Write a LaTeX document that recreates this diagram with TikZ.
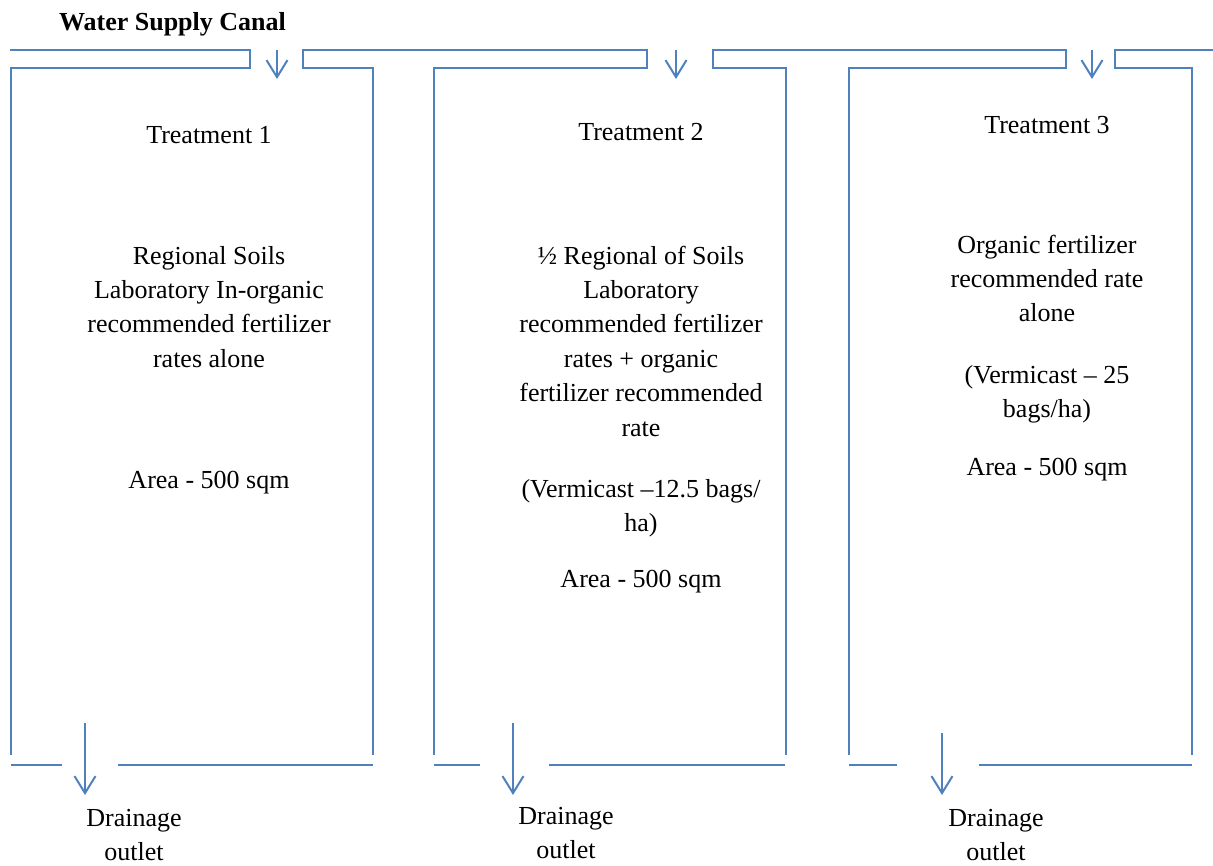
\documentclass[tikz,border=0pt]{standalone}
\usepackage{fontspec}
\setmainfont{Liberation Serif}
\usetikzlibrary{arrows.meta}
\definecolor{canalblue}{RGB}{79,129,189}
\begin{document}
\begin{tikzpicture}[x=1pt,y=-1pt,
  wall/.style={draw=canalblue,line width=2pt},
  flow/.style={draw=canalblue,line width=2pt,-{Straight Barb[length=17pt,width=21pt,line width=2pt]}},
  txt/.style={anchor=base,inner sep=0pt,font=\fontsize{26}{34.4}\selectfont},
  hdr/.style={txt,font=\fontsize{26}{34.4}\selectfont\bfseries}]
\useasboundingbox (0,0) rectangle (1213,865);
% canal and plot walls
\draw[wall] (10,50)--(250,50)--(250,68)--(11,68)--(11,755);
\draw[wall] (373,755)--(373,68)--(303,68)--(303,50)--(647,50)--(647,68)--(434,68)--(434,755);
\draw[wall] (786,755)--(786,68)--(713,68)--(713,50)--(1066,50)--(1066,68)--(849,68)--(849,755);
\draw[wall] (1192,755)--(1192,68)--(1115,68)--(1115,50)--(1213,50);
% bottom dikes
\draw[wall] (11,765)--(62,765) (118,765)--(373,765);
\draw[wall] (434,765)--(480,765) (549,765)--(785,765);
\draw[wall] (849,765)--(897,765) (979,765)--(1192,765);
% inflow / outflow points
\coordinate (in1) at (277,50);  \coordinate (in1e) at (277,79);
\coordinate (in2) at (676,50);  \coordinate (in2e) at (676,79);
\coordinate (in3) at (1092,50); \coordinate (in3e) at (1092,79);
\coordinate (out1) at (85,723);  \coordinate (out1e) at (85,795);
\coordinate (out2) at (513,723); \coordinate (out2e) at (513,795);
\coordinate (out3) at (942,733); \coordinate (out3e) at (942,795);
\draw[flow] (in1) -- (in1e);
\draw[flow] (in2) -- (in2e);
\draw[flow] (in3) -- (in3e);
\draw[flow] (out1) -- (out1e);
\draw[flow] (out2) -- (out2e);
\draw[flow] (out3) -- (out3e);
% texts
\node[hdr] (canal) at (172.5,30) {Water Supply Canal};
\node[txt] (t1) at (209,143) {Treatment 1};
\node[txt] (t2) at (641,140) {Treatment 2};
\node[txt] (t3) at (1047,133) {Treatment 3};
\node[txt] (d1) at (209,264) {\begin{tabular}[t]{@{}c@{}}Regional Soils\\Laboratory In-organic\\recommended fertilizer\\rates alone\end{tabular}};
\node[txt] (a1) at (209,488) {Area - 500 sqm};
\node[txt] (d2) at (641,264) {\begin{tabular}[t]{@{}c@{}}½ Regional of Soils\\Laboratory\\recommended fertilizer\\rates + organic\\fertilizer recommended\\rate\end{tabular}};
\node[txt] (v2) at (641,497) {\begin{tabular}[t]{@{}c@{}}(Vermicast –12.5 bags/\\ha)\end{tabular}};
\node[txt] (a2) at (641,587) {Area - 500 sqm};
\node[txt] (d3) at (1047,253) {\begin{tabular}[t]{@{}c@{}}Organic fertilizer\\recommended rate\\alone\end{tabular}};
\node[txt] (v3) at (1047,383) {\begin{tabular}[t]{@{}c@{}}(Vermicast – 25\\bags/ha)\end{tabular}};
\node[txt] (a3) at (1047,475) {Area - 500 sqm};
\node[txt] (o1) at (134,826) {\begin{tabular}[t]{@{}c@{}}Drainage\\outlet\end{tabular}};
\node[txt] (o2) at (566,824) {\begin{tabular}[t]{@{}c@{}}Drainage\\outlet\end{tabular}};
\node[txt] (o3) at (996,826) {\begin{tabular}[t]{@{}c@{}}Drainage\\outlet\end{tabular}};
\end{tikzpicture}
\end{document}
